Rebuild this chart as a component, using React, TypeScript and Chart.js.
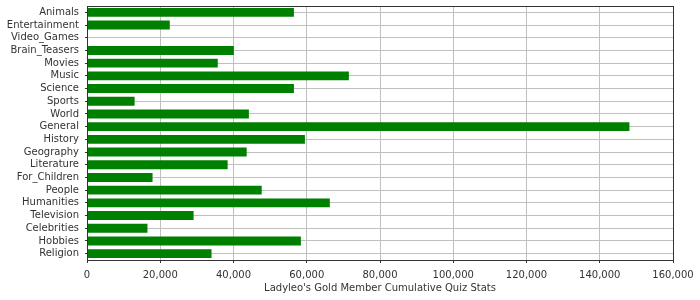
import React, { useEffect, useRef } from "react";
import { Chart, registerables } from "chart.js";

Chart.register(...registerables);

const categories = [
  "Animals", "Entertainment", "Video_Games", "Brain_Teasers", "Movies", "Music",
  "Science", "Sports", "World", "General", "History", "Geography", "Literature",
  "For_Children", "People", "Humanities", "Television", "Celebrities", "Hobbies", "Religion",
];

const quizStats = [
  56500, 22600, 0, 40100, 35700, 71500, 56500, 13000, 44200, 148100,
  59500, 43600, 38400, 17900, 47700, 66300, 29100, 16500, 58400, 34000,
];

const xTickValues = [0, 20000, 40000, 60000, 80000, 100000, 120000, 140000, 160000];
const axisTitle = "Ladyleo's Gold Member Cumulative Quiz Stats";

const FONT = "'DejaVu Sans', sans-serif";

const framePlugin = {
  id: "frame",
  afterDraw(chart: any) {
    const { ctx, chartArea } = chart;
    ctx.save();
    ctx.strokeStyle = "#333333";
    ctx.lineWidth = 1;
    ctx.strokeRect(
      Math.round(chartArea.left) + 0.5,
      Math.round(chartArea.top) + 0.5,
      Math.round(chartArea.right - chartArea.left),
      Math.round(chartArea.bottom - chartArea.top)
    );
    ctx.restore();
  },
};

export default function App() {
  const ref = useRef<HTMLCanvasElement | null>(null);

  useEffect(() => {
    document.body.style.margin = "0";
    const chart = new Chart(ref.current as HTMLCanvasElement, {
      type: "bar",
      data: {
        labels: categories,
        datasets: [
          {
            data: quizStats,
            backgroundColor: "#008000",
            borderWidth: 0,
            barPercentage: 0.7,
            categoryPercentage: 1,
          },
        ],
      },
      options: {
        indexAxis: "y",
        animation: false,
        responsive: false,
        devicePixelRatio: 1,
        layout: { padding: { top: 6, right: 27, bottom: 6, left: 0 } },
        plugins: {
          legend: { display: false },
          tooltip: { enabled: false },
        },
        scales: {
          x: {
            min: 0,
            max: 160000,
            afterBuildTicks: (scale: any) => {
              scale.ticks = xTickValues.map((v) => ({ value: v }));
            },
            afterFit: (scale: any) => {
              scale.paddingLeft = 0;
              scale.paddingRight = 0;
              scale.height = scale.height - 6;
            },
            grid: {
              color: "#c0c0c0",
              tickColor: "#333333",
              tickLength: 3,
              drawTicks: true,
            },
            border: { color: "#333333" },
            ticks: {
              color: "#333333",
              font: { family: FONT, size: 10 },
              padding: 6,
              maxRotation: 0,
              callback: (v: any) => Number(v).toLocaleString("en-US"),
            },
            title: {
              display: true,
              text: axisTitle,
              color: "#333333",
              font: { family: FONT, size: 10 },
              padding: { top: 1, bottom: 0 },
            },
          },
          y: {
            afterFit: (scale: any) => {
              scale.width = 87;
              scale.paddingTop = 0;
              scale.paddingBottom = 0;
            },
            grid: {
              offset: false,
              color: "#c0c0c0",
              tickColor: "#333333",
              tickLength: 2,
            },
            border: { color: "#333333" },
            ticks: {
              color: "#333333",
              font: { family: FONT, size: 10 },
              padding: 6,
              autoSkip: false,
            },
          },
        },
      },
      plugins: [framePlugin],
    } as any);
    return () => chart.destroy();
  }, []);

  return (
    <div style={{ position: "absolute", left: 0, top: 0, width: 700, height: 300 }}>
      <canvas ref={ref} width={700} height={300} style={{ display: "block" }} />
    </div>
  );
}
